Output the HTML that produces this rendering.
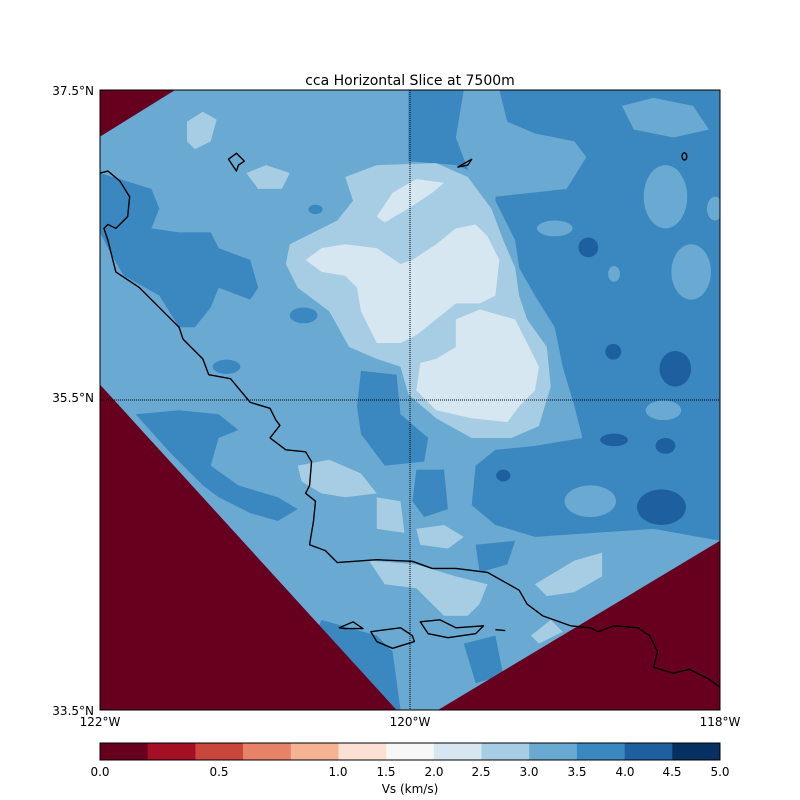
<!DOCTYPE html>
<html><head><meta charset="utf-8"><style>
body{margin:0;background:#fff;}
svg{display:block;font-family:"DejaVu Sans","Liberation Sans",sans-serif;}
</style></head><body>
<svg width="800" height="800" viewBox="0 0 800 800" xmlns="http://www.w3.org/2000/svg">
<rect width="800" height="800" fill="#fff"/>
<text x="410" y="85" font-size="14" text-anchor="middle">cca Horizontal Slice at 7500m</text>
<clipPath id="c"><rect x="0" y="0" width="1568" height="1568"/></clipPath>
<g transform="translate(100,90) scale(0.39541)" clip-path="url(#c)">
<rect width="1568" height="1568" fill="#6aa9d1"/>
<!-- dark -->
<g fill="#3b88c0">
<path d="M780,0 L1568,0 L1568,1140 L1400,1110 L1250,1120 L1100,1130 L1000,1100 L940,1050 L950,950 L1000,910 L1100,900 L1220,880 L1200,800 L1170,700 L1150,600 L1100,520 L1060,450 L1050,380 L1000,280 L1000,230 L900,190 L780,180 Z"/>
<path d="M0,210 L130,250 L150,300 L130,350 L200,360 L280,360 L300,400 L380,430 L400,500 L380,530 L300,500 L280,550 L240,600 L200,600 L150,520 L60,470 L20,400 L0,360 Z"/>
<path d="M660,710 L750,720 L760,820 L830,880 L820,940 L720,950 L660,870 L650,800 Z"/>
<path d="M90,820 L200,810 L300,820 L350,860 L300,880 L280,950 L350,1000 L450,1030 L500,1060 L450,1090 L380,1070 L300,1030 L260,1000 L180,920 Z"/>
<path d="M560,1340 L700,1380 L740,1420 L760,1568 L700,1568 L540,1390 Z"/>
<path d="M920,1400 L1000,1380 L1020,1480 L950,1500 Z"/>
<path d="M800,960 L870,960 L880,1060 L820,1080 L790,1040 Z"/>
<path d="M950,1150 L1050,1140 L1030,1200 L960,1220 Z"/>
<ellipse cx="515" cy="570" rx="35" ry="20"/>
<ellipse cx="320" cy="700" rx="35" ry="18"/>
<ellipse cx="545" cy="302" rx="18" ry="12"/>
</g>
<!-- light inside dark -->
<g fill="#6aa9d1">
<path d="M920,0 L1010,0 L1030,80 L1100,110 L1200,130 L1230,170 L1180,250 L1000,270 L930,200 L900,120 Z"/>
<path d="M1320,40 L1400,20 L1500,40 L1540,100 L1450,120 L1350,100 Z"/>
<ellipse cx="1430" cy="270" rx="55" ry="80"/>
<ellipse cx="1495" cy="460" rx="50" ry="70"/>
<ellipse cx="1555" cy="300" rx="20" ry="30"/>
<ellipse cx="1150" cy="350" rx="45" ry="20"/>
<ellipse cx="1300" cy="465" rx="15" ry="20"/>
<ellipse cx="1240" cy="1040" rx="65" ry="40"/>
<ellipse cx="1425" cy="810" rx="45" ry="25"/>
</g>
<g fill="#1e5fa0">
<ellipse cx="1235" cy="398" rx="25" ry="25"/>
<ellipse cx="1298" cy="662" rx="20" ry="20"/>
<ellipse cx="1455" cy="705" rx="40" ry="45"/>
<ellipse cx="1420" cy="1055" rx="62" ry="45"/>
<ellipse cx="1300" cy="885" rx="35" ry="16"/>
<ellipse cx="1430" cy="900" rx="25" ry="20"/>
<ellipse cx="1020" cy="975" rx="18" ry="15"/>
</g>
<!-- light -->
<g fill="#a6cde3">
<path d="M480,390 L600,330 L640,280 L620,220 L700,190 L850,185 L930,220 L990,300 L1020,380 L1050,450 L1060,520 L1080,580 L1130,650 L1140,750 L1110,850 L1040,880 L940,880 L850,830 L780,770 L760,700 L700,680 L630,650 L580,560 L500,500 L470,440 Z"/>
<path d="M220,80 L260,55 L295,75 L280,130 L240,150 L220,130 Z"/>
<path d="M370,210 L420,190 L480,210 L460,250 L400,250 Z"/>
<path d="M500,950 L580,935 L660,970 L700,1020 L620,1030 L560,1020 L510,990 Z"/>
<path d="M700,1030 L760,1040 L770,1120 L700,1110 Z"/>
<path d="M680,1190 L800,1200 L900,1230 L980,1250 L960,1300 L930,1330 L870,1330 L800,1260 L720,1250 Z"/>
<path d="M1100,1250 L1200,1190 L1270,1170 L1270,1230 L1200,1270 L1130,1280 Z"/>
<path d="M1090,1380 L1140,1340 L1170,1370 L1110,1400 Z"/>
<path d="M800,1110 L870,1100 L920,1130 L880,1160 L810,1150 Z"/>
</g>
<g fill="#d6e7f1">
<path d="M520,430 L560,400 L620,390 L700,400 L760,440 L790,430 L850,390 L900,350 L950,340 L980,370 L1010,430 L1000,520 L960,540 L900,540 L850,580 L800,620 L760,640 L700,640 L660,560 L650,500 L620,470 L560,460 Z"/>
<path d="M900,580 L960,555 L1050,580 L1080,640 L1110,700 L1100,760 L1060,800 L1030,840 L940,830 L850,810 L800,760 L810,690 L850,680 L900,650 Z"/>
<path d="M700,320 L740,260 L800,225 L870,235 L840,260 L780,300 L720,335 Z"/>
</g>
<!-- red masks -->
<g fill="#67001f">
<polygon points="0,0 190,0 0,118"/>
<polygon points="0,745 750,1568 0,1568"/>
<polygon points="855,1568 1568,1140 1568,1568"/>
</g>
<g fill="none" stroke="#000" stroke-width="3.5" stroke-linejoin="round">
<polyline points="0,210 20,205 50,230 75,270 70,320 40,350 20,340 10,350 20,380 40,460 100,500 160,560 200,600 210,630 240,660 260,680 275,720 330,730 380,790 430,805 445,835 455,848 430,880 470,910 520,915 535,940 530,1000 520,1020 545,1040 540,1090 530,1150 570,1165 600,1195 700,1188 790,1192 840,1210 900,1210 980,1220 1060,1265 1080,1300 1120,1330 1190,1355 1240,1360 1260,1370 1300,1355 1360,1360 1390,1380 1410,1420 1400,1460 1450,1475 1490,1465 1540,1490 1568,1510"/>
<polygon points="605,1360 640,1345 665,1362 620,1362"/>
<polygon points="685,1370 760,1360 790,1380 795,1395 740,1412 700,1395"/>
<polygon points="810,1345 860,1340 900,1360 970,1355 950,1375 880,1385 830,1375"/>
<polyline points="1000,1365 1025,1367"/>
<polygon points="325,175 345,160 365,180 350,190 345,205 335,190"/>
<polygon points="905,195 940,175 930,190"/>
<ellipse cx="1478" cy="168" rx="6" ry="9"/>
</g>
</g>
<g stroke="#000" stroke-width="1" stroke-dasharray="1,1">
<line x1="410" y1="90" x2="410" y2="710"/>
<line x1="100" y1="400" x2="720" y2="400"/>
</g>
<rect x="100" y="90" width="620" height="620" fill="none" stroke="#000" stroke-width="1"/>
<g font-size="12" text-anchor="end">
<text x="94" y="95">37.5°N</text>
<text x="94" y="402">35.5°N</text>
<text x="94" y="715">33.5°N</text>
</g>
<g font-size="12" text-anchor="middle">
<text x="100" y="726">122°W</text>
<text x="410" y="726">120°W</text>
<text x="720" y="726">118°W</text>
</g>
<g>
<rect x="100.0" y="743" width="48" height="17" fill="#67001f"/>
<rect x="147.7" y="743" width="48" height="17" fill="#a50f26"/>
<rect x="195.4" y="743" width="48" height="17" fill="#c9463d"/>
<rect x="243.1" y="743" width="48" height="17" fill="#e58267"/>
<rect x="290.8" y="743" width="48" height="17" fill="#f6b394"/>
<rect x="338.5" y="743" width="48" height="17" fill="#fbe1d3"/>
<rect x="386.2" y="743" width="48" height="17" fill="#f7f7f7"/>
<rect x="433.8" y="743" width="48" height="17" fill="#d6e7f1"/>
<rect x="481.5" y="743" width="48" height="17" fill="#a6cde3"/>
<rect x="529.2" y="743" width="48" height="17" fill="#6aa9d1"/>
<rect x="576.9" y="743" width="48" height="17" fill="#3b88c0"/>
<rect x="624.6" y="743" width="48" height="17" fill="#1e5fa0"/>
<rect x="672.3" y="743" width="47.7" height="17" fill="#053061"/>
<rect x="100" y="743" width="620" height="17" fill="none" stroke="#000" stroke-width="1"/>
</g>
<g font-size="12" text-anchor="middle">
<text x="100" y="776">0.0</text>
<text x="219" y="776">0.5</text>
<text x="338" y="776">1.0</text>
<text x="386" y="776">1.5</text>
<text x="434" y="776">2.0</text>
<text x="481" y="776">2.5</text>
<text x="529" y="776">3.0</text>
<text x="577" y="776">3.5</text>
<text x="625" y="776">4.0</text>
<text x="672" y="776">4.5</text>
<text x="720" y="776">5.0</text>
<text x="410" y="793">Vs (km/s)</text>
</g>
</svg>
</body></html>
